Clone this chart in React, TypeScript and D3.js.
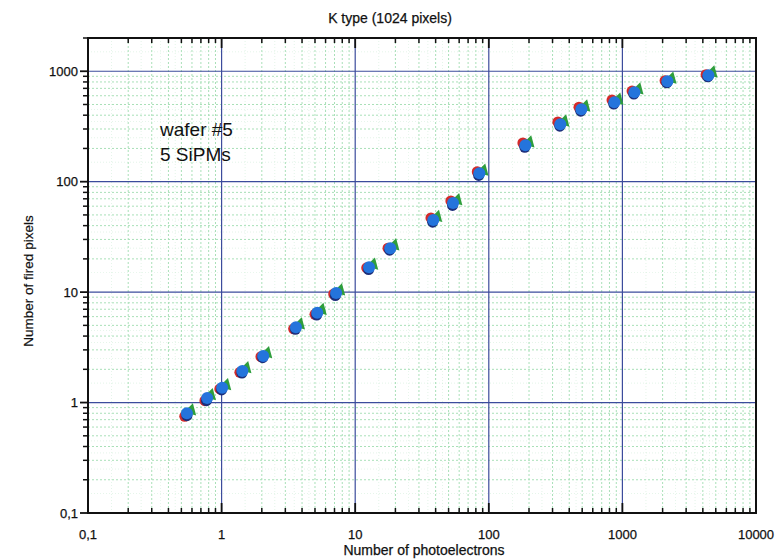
import React from "react";
import * as d3 from "d3";

const title = "K type (1024 pixels)";
const xLabel = "Number of photoelectrons";
const yLabel = "Number of fired pixels";
const annotation = ["wafer #5", "5 SiPMs"];

const xTicks = [0.1, 1, 10, 100, 1000, 10000];
const xTickLabels = ["0,1", "1", "10", "100", "1000", "10000"];
const yTicks = [0.1, 1, 10, 100, 1000];
const yTickLabels = ["0,1", "1", "10", "100", "1000"];

const redPe = [0.53, 0.75, 0.97, 1.37, 1.97, 3.46, 5.0, 6.9, 12.2, 17.6, 36.9, 52, 82, 180, 329, 473, 836, 1181, 2086, 4230];
const redPix = [0.75, 1.04, 1.33, 1.88, 2.6, 4.65, 6.3, 9.6, 16.6, 25, 47, 67, 123, 224, 347, 472, 548, 662, 822, 930];
const navyPe = [0.55, 0.77, 1.0, 1.42, 2.03, 3.57, 5.15, 7.1, 12.6, 18.1, 38, 53.5, 84, 186, 340, 488, 862, 1218, 2150, 4360];
const navyPix = [0.76, 1.04, 1.3, 1.85, 2.55, 4.6, 6.2, 9.3, 16.0, 24, 43, 61, 114, 205, 318, 435, 505, 622, 785, 890];
const greenPe = [0.59, 0.83, 1.08, 1.53, 2.19, 3.85, 5.6, 7.7, 13.6, 19.6, 41, 58, 91, 201, 367, 527, 932, 1316, 2325, 4715];
const greenPix = [0.85, 1.17, 1.44, 2.05, 2.8, 5.1, 6.9, 10.4, 17.8, 26.5, 48, 68, 126, 227, 351, 480, 555, 685, 860, 975];
const bluePe = [0.55, 0.78, 1.01, 1.43, 2.05, 3.6, 5.2, 7.2, 12.7, 18.3, 38.4, 54, 85, 188, 343, 493, 871, 1230, 2173, 4406];
const bluePix = [0.8, 1.1, 1.36, 1.93, 2.64, 4.8, 6.5, 9.8, 16.8, 25, 45, 64, 119, 214, 331, 453, 524, 646, 812, 920];

const W = 783;
const H = 559;
const M = { left: 88, right: 756, top: 38, bottom: 513 };

export default function App() {
  const x = d3.scaleLog().domain([0.1, 10000]).range([M.left, M.right]);
  const y = d3.scaleLog().domain([0.1, 2000]).range([M.bottom, M.top]);

  const xMinor: number[] = [];
  for (let d = 0.1; d < 10000; d *= 10) {
    for (let k = 2; k <= 9; k++) xMinor.push(+(d * k).toPrecision(3));
  }
  const yMinor: number[] = [];
  for (let d = 0.1; d < 2000; d *= 10) {
    for (let k = 2; k <= 9; k++) {
      const v = +(d * k).toPrecision(3);
      if (v <= 2000) yMinor.push(v);
    }
  }
  const xHalf: number[] = [];
  for (let d = 0.1; d < 10000; d *= 10) {
    for (const k of [1.5, 2.5, 3.5, 4.5]) xHalf.push(+(d * k).toPrecision(3));
  }
  const yHalf: number[] = [];
  for (let d = 0.1; d < 2000; d *= 10) {
    for (const k of [1.5, 2.5, 3.5, 4.5]) {
      const v = +(d * k).toPrecision(3);
      if (v <= 2000) yHalf.push(v);
    }
  }

  const majorGrid = "#3c4c9c";
  const minorGrid = "#a9e0b8";
  const font = "'Liberation Sans', Arial, sans-serif";

  const tri = d3.symbol().type(d3.symbolTriangle).size(70)() as string;

  return (
    <svg width={W} height={H} style={{ position: "absolute", left: 0, top: 0, background: "#fff" }} fontFamily={font}>
      <rect x={0} y={0} width={W} height={H} fill="#fff" />
      {/* half-step faint grid */}
      {xHalf.map((v, i) => (
        <line key={"xh" + i} x1={x(v)} x2={x(v)} y1={M.top} y2={M.bottom} stroke={minorGrid} strokeWidth={0.6} strokeDasharray="1 2" opacity={0.5} />
      ))}
      {yHalf.map((v, i) => (
        <line key={"yh" + i} x1={M.left} x2={M.right} y1={y(v)} y2={y(v)} stroke={minorGrid} strokeWidth={0.6} strokeDasharray="1 2" opacity={0.5} />
      ))}
      {/* minor grid */}
      {xMinor.map((v, i) => (
        <line key={"xm" + i} x1={x(v)} x2={x(v)} y1={M.top} y2={M.bottom} stroke={minorGrid} strokeWidth={1} strokeDasharray="2 2" />
      ))}
      {yMinor.map((v, i) => (
        <line key={"ym" + i} x1={M.left} x2={M.right} y1={y(v)} y2={y(v)} stroke={minorGrid} strokeWidth={1} strokeDasharray="2 2" />
      ))}
      {/* major grid */}
      {xTicks.slice(1, -1).map((v, i) => (
        <line key={"xM" + i} x1={x(v)} x2={x(v)} y1={M.top} y2={M.bottom} stroke={majorGrid} strokeWidth={1.2} />
      ))}
      {yTicks.slice(1).map((v, i) => (
        <line key={"yM" + i} x1={M.left} x2={M.right} y1={y(v)} y2={y(v)} stroke={majorGrid} strokeWidth={1.2} />
      ))}

      {/* frame */}
      <rect x={M.left} y={M.top} width={M.right - M.left} height={M.bottom - M.top} fill="none" stroke="#111" strokeWidth={2} />

      {/* left ticks (outward) */}
      {yMinor.map((v, i) => (
        <line key={"lt" + i} x1={M.left - 5} x2={M.left} y1={y(v)} y2={y(v)} stroke="#111" strokeWidth={1.5} />
      ))}
      {yTicks.map((v, i) => (
        <line key={"lT" + i} x1={M.left - 8} x2={M.left} y1={y(v)} y2={y(v)} stroke="#111" strokeWidth={1.8} />
      ))}
      {/* top and bottom ticks (inward) */}
      {xMinor.map((v, i) => (
        <g key={"tb" + i}>
          <line x1={x(v)} x2={x(v)} y1={M.top} y2={M.top + 5} stroke="#111" strokeWidth={1.5} />
          <line x1={x(v)} x2={x(v)} y1={M.bottom} y2={M.bottom - 5} stroke="#111" strokeWidth={1.5} />
        </g>
      ))}
      {xTicks.map((v, i) => (
        <g key={"TB" + i}>
          <line x1={x(v)} x2={x(v)} y1={M.top} y2={M.top + 10} stroke="#111" strokeWidth={1.8} />
          <line x1={x(v)} x2={x(v)} y1={M.bottom} y2={M.bottom - 10} stroke="#111" strokeWidth={1.8} />
        </g>
      ))}

      {/* tick labels */}
      {yTicks.map((v, i) => (
        <text key={"yl" + i} x={M.left - 10} y={y(v)} dy="0.35em" textAnchor="end" fontSize={13} fill="#111" stroke="#111" strokeWidth={0.25}>
          {yTickLabels[i]}
        </text>
      ))}
      {xTicks.map((v, i) => (
        <text key={"xl" + i} x={x(v)} y={539} textAnchor="middle" fontSize={13} fill="#111" stroke="#111" strokeWidth={0.25}>
          {xTickLabels[i]}
        </text>
      ))}

      {/* data markers */}
      {redPe.map((v, i) => (
        <circle key={"r" + i} cx={x(v)} cy={y(redPix[i])} r={5.5} fill="#d42a2a" />
      ))}
      {greenPe.map((v, i) => (
        <path key={"g" + i} d={tri} transform={`translate(${x(v)},${y(greenPix[i])}) rotate(15)`} fill="#2e9e3c" />
      ))}
      {navyPe.map((v, i) => (
        <circle key={"n" + i} cx={x(v)} cy={y(navyPix[i])} r={5.5} fill="#1d2f7a" />
      ))}
      {bluePe.map((v, i) => (
        <circle key={"b" + i} cx={x(v)} cy={y(bluePix[i])} r={6} fill="#2474dc" />
      ))}

      {/* titles */}
      <text x={390} y={23} textAnchor="middle" fontSize={14} fill="#111" stroke="#111" strokeWidth={0.25}>{title}</text>
      <text x={424} y={555} textAnchor="middle" fontSize={14} fill="#111" stroke="#111" strokeWidth={0.25}>{xLabel}</text>
      <text transform={`translate(33,281) rotate(-90)`} textAnchor="middle" fontSize={13.5} fill="#111" stroke="#111" strokeWidth={0.2}>{yLabel}</text>
      <text x={160} y={136} fontSize={19} fill="#111">{annotation[0]}</text>
      <text x={160} y={161} fontSize={19} fill="#111">{annotation[1]}</text>
    </svg>
  );
}
